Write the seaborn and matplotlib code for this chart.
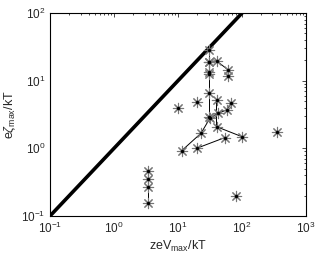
import numpy as np
import pandas as pd
import matplotlib
matplotlib.use("Agg")
import matplotlib.pyplot as plt
import seaborn as sns
from matplotlib.ticker import LogLocator, NullFormatter

# ---- data ----
series_A_x = [30, 30, 30, 30, 30, 30]
series_A_y = [28.4, 19.0, 13.3, 12.4, 6.5, 2.94]
series_B_x = [30, 40, 61, 61]
series_B_y = [19.0, 19.7, 14.4, 11.7]
series_C_x = [11.4, 22.9, 31.6, 42.7, 57.5, 68.4]
series_C_y = [0.92, 1.67, 2.79, 3.3, 3.69, 4.63]
series_D_x = [40, 40, 99]
series_D_y = [5.2, 2.09, 1.49]
series_E_x = [19.6, 54]
series_E_y = [1.0, 1.44]
series_F_x = [3.4, 3.4, 3.4, 3.4]
series_F_y = [0.46, 0.35, 0.27, 0.156]
single_x = [10.1, 20, 355, 80.5]
single_y = [4.0, 4.9, 1.77, 0.198]
diag_x = [0.1, 1000]
diag_y = [0.1, 1000]

rows = []
for name, xs, ys in [("A", series_A_x, series_A_y), ("B", series_B_x, series_B_y),
                     ("C", series_C_x, series_C_y), ("D", series_D_x, series_D_y),
                     ("E", series_E_x, series_E_y), ("F", series_F_x, series_F_y)]:
    for i, (xv, yv) in enumerate(zip(xs, ys)):
        rows.append({"series": name, "order": i, "x": xv, "y": yv})
df = pd.DataFrame(rows)
pts = pd.concat([df[["x", "y"]], pd.DataFrame({"x": single_x, "y": single_y})], ignore_index=True)
diag = pd.DataFrame({"x": diag_x, "y": diag_y})

sns.set_style("white")
plt.rcParams["font.family"] = ["Liberation Sans", "DejaVu Sans"]
plt.rcParams["mathtext.fontset"] = "custom"
plt.rcParams["mathtext.rm"] = "Liberation Sans"
plt.rcParams["mathtext.it"] = "Liberation Sans:italic"

fig = plt.figure(figsize=(3.19, 2.57), dpi=100)
ax = fig.add_axes([0.157, 0.160, 0.802, 0.789])
ax.set_xscale("log")
ax.set_yscale("log")

sns.lineplot(data=diag, x="x", y="y", ax=ax, color="black", lw=2.6, sort=False)
sns.lineplot(data=df, x="x", y="y", units="series", estimator=None, sort=False,
             ax=ax, color="black", lw=0.7)
sns.scatterplot(data=pts, x="x", y="y", ax=ax, marker=(8, 2, 0), s=55,
                color="#777777", linewidth=0.8, zorder=3)
sns.scatterplot(data=pts, x="x", y="y", ax=ax, marker="o", s=6,
                color="black", linewidth=0, zorder=4)

ax.set_xlim(0.1, 1000)
ax.set_ylim(0.1, 100)
ax.xaxis.set_major_locator(LogLocator(base=10, numticks=10))
ax.yaxis.set_major_locator(LogLocator(base=10, numticks=10))
ax.xaxis.set_minor_locator(LogLocator(base=10, subs=np.arange(2, 10), numticks=20))
ax.yaxis.set_minor_locator(LogLocator(base=10, subs=np.arange(2, 10), numticks=20))
ax.xaxis.set_minor_formatter(NullFormatter())
ax.yaxis.set_minor_formatter(NullFormatter())
ax.tick_params(which="both", direction="in", top=True, right=True, labelsize=8.5,
               color="black")
ax.tick_params(which="major", length=3, width=0.5)
ax.tick_params(which="minor", length=1.5, width=0.5)
for s in ax.spines.values():
    s.set_color("black")
    s.set_linewidth(0.8)

ax.set_xlabel(r"zeV$_{\rm max}$/kT", fontsize=9, labelpad=2)
ax.set_ylabel(r"e$\zeta_{\rm max}$/kT", fontsize=9, labelpad=2)

fig.savefig("out.png", dpi=100)
